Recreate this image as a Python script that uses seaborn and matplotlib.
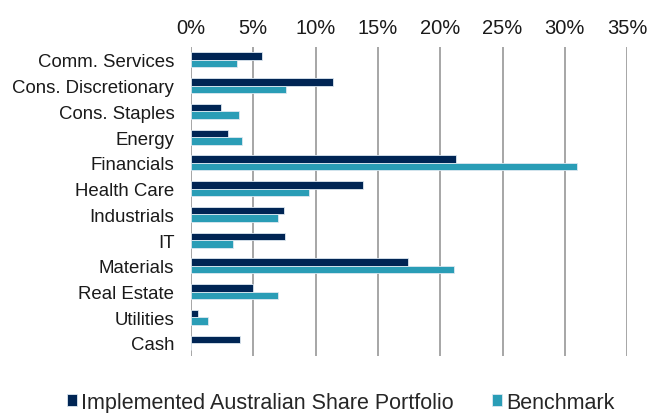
import matplotlib
matplotlib.use("Agg")
import matplotlib.pyplot as plt
from matplotlib.ticker import PercentFormatter
import pandas as pd
import seaborn as sns

sectors = ["Comm. Services", "Cons. Discretionary", "Cons. Staples", "Energy",
           "Financials", "Health Care", "Industrials", "IT", "Materials",
           "Real Estate", "Utilities", "Cash"]
portfolio = [5.7, 11.4, 2.4, 3.0, 21.3, 13.8, 7.5, 7.55, 17.4, 5.0, 0.6, 3.95]
benchmark = [3.7, 7.6, 3.85, 4.1, 31.0, 9.5, 7.0, 3.4, 21.1, 7.0, 1.35, 0.0]
series_names = ["Implemented Australian Share Portfolio", "Benchmark"]
colors = ["#002554", "#2A9DB6"]

df = pd.DataFrame({
    "sector": sectors * 2,
    "weight": portfolio + benchmark,
    "series": [series_names[0]] * len(sectors) + [series_names[1]] * len(sectors),
})

sns.set_theme(style="white")
plt.rcParams["font.family"] = ["Liberation Sans", "DejaVu Sans"]

fig = plt.figure(figsize=(6.49, 4.14), dpi=100)
ax = fig.add_axes([0.2943, 0.138, 0.672, 0.746])

sns.barplot(data=df, y="sector", x="weight", hue="series", palette=colors,
            orient="h", width=0.58, saturation=1, edgecolor="#dde8f0",
            linewidth=0.6, ax=ax, legend=True, zorder=3)

ax.set_xlim(0, 35)
ax.set_xticks(range(0, 36, 5))
ax.xaxis.set_major_formatter(PercentFormatter(decimals=0))
ax.xaxis.tick_top()
ax.tick_params(axis="x", length=0, labelsize=14.5, colors="#1a1a1a", pad=7)
ax.tick_params(axis="y", length=0, labelsize=13.4, colors="#1a1a1a", pad=12)
ax.set_xlabel("")
ax.set_ylabel("")
ax.grid(axis="x", color="#A6A6A6", linewidth=1.4, zorder=0)
ax.grid(axis="y", visible=False)
for s in ax.spines.values():
    s.set_visible(False)

handles, labels = ax.get_legend_handles_labels()
ax.legend_.remove()
fig.legend(handles, labels, loc="center", bbox_to_anchor=(0.525, 0.026),
           ncol=2, frameon=False, fontsize=15.5, handlelength=0.45,
           handleheight=0.45, handletextpad=0.2, columnspacing=1.8,
           borderpad=0, borderaxespad=0)

fig.savefig("out.png", dpi=100)
